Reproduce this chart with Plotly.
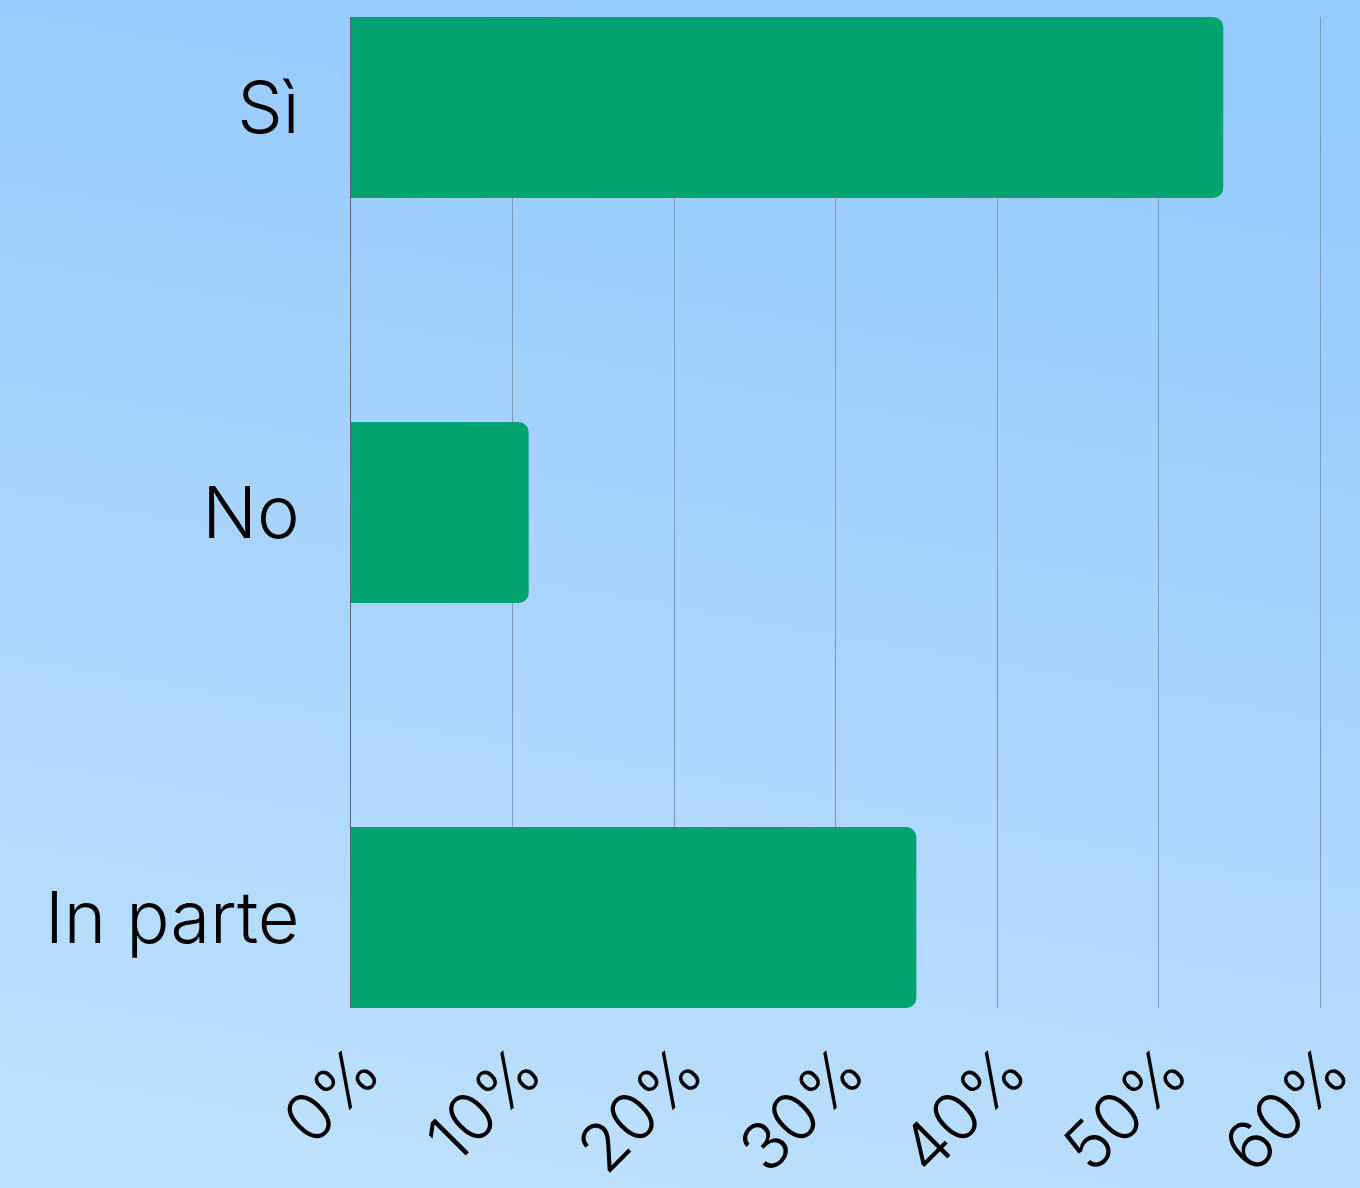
import base64
import plotly.graph_objects as go

# Survey answers and their share of respondents (%)
answers = ["Sì", "No", "In parte"]
shares = [54, 11, 35]
tick_values = [0, 10, 20, 30, 40, 50, 60]
tick_labels = ["0%", "10%", "20%", "30%", "40%", "50%", "60%"]

W, H = 1360, 1188
M_L, M_R, M_T, M_B = 351, 35, 17, 180
plot_w = W - M_L - M_R
plot_h = H - M_T - M_B

# Soft sky-blue gradient used as page background
svg = (
    f'<svg xmlns="http://www.w3.org/2000/svg" width="{W}" height="{H}" viewBox="0 0 {W} {H}" preserveAspectRatio="none">'
    '<defs><linearGradient id="g" x1="0.6" y1="0" x2="0.4" y2="1">'
    '<stop offset="0" stop-color="#94cafc"/>'
    '<stop offset="0.5" stop-color="#a8d4fc"/>'
    '<stop offset="1" stop-color="#bde0fd"/>'
    '</linearGradient></defs>'
    f'<rect width="{W}" height="{H}" fill="url(#g)"/></svg>'
)
bg_src = "data:image/svg+xml;base64," + base64.b64encode(svg.encode()).decode()

FONT = "Inter"

fig = go.Figure(
    go.Bar(
        x=shares,
        y=answers,
        orientation="h",
        marker=dict(color="#03a271", line=dict(width=0)),
        width=0.447,
        hoverinfo="skip",
    )
)

fig.update_layout(
    width=W,
    height=H,
    margin=dict(l=M_L, r=M_R, t=M_T, b=M_B, pad=0),
    paper_bgcolor="#a8d4fc",
    plot_bgcolor="rgba(0,0,0,0)",
    showlegend=False,
    barcornerradius=10,
    font=dict(family=FONT, color="#000000"),
    images=[
        dict(
            source=bg_src,
            xref="paper",
            yref="paper",
            x=-M_L / plot_w,
            y=1 + M_T / plot_h,
            sizex=W / plot_w,
            sizey=H / plot_h,
            xanchor="left",
            yanchor="top",
            sizing="stretch",
            layer="below",
        )
    ],
    xaxis=dict(
        range=[0, 60.3],
        tickvals=tick_values,
        ticktext=tick_labels,
        tickangle=-45,
        tickfont=dict(family=FONT, size=66, weight=300),
        showgrid=True,
        gridcolor="#7f99b5",
        gridwidth=1,
        zeroline=False,
        showline=False,
        ticks="",
        ticklabelstandoff=10,
        ticklabelshift=10,
        ticklabeloverflow="allow",
        automargin=False,
    ),
    yaxis=dict(
        categoryorder="array",
        categoryarray=answers,
        range=[2.2235, -0.2235],
        tickfont=dict(family=FONT, size=72, weight=300),
        showgrid=False,
        zeroline=False,
        showline=True,
        linecolor="#5b6572",
        linewidth=1,
        ticks="outside",
        ticklen=36,
        tickcolor="rgba(0,0,0,0)",
        automargin=False,
    ),
)

fig.write_html("out.html")
